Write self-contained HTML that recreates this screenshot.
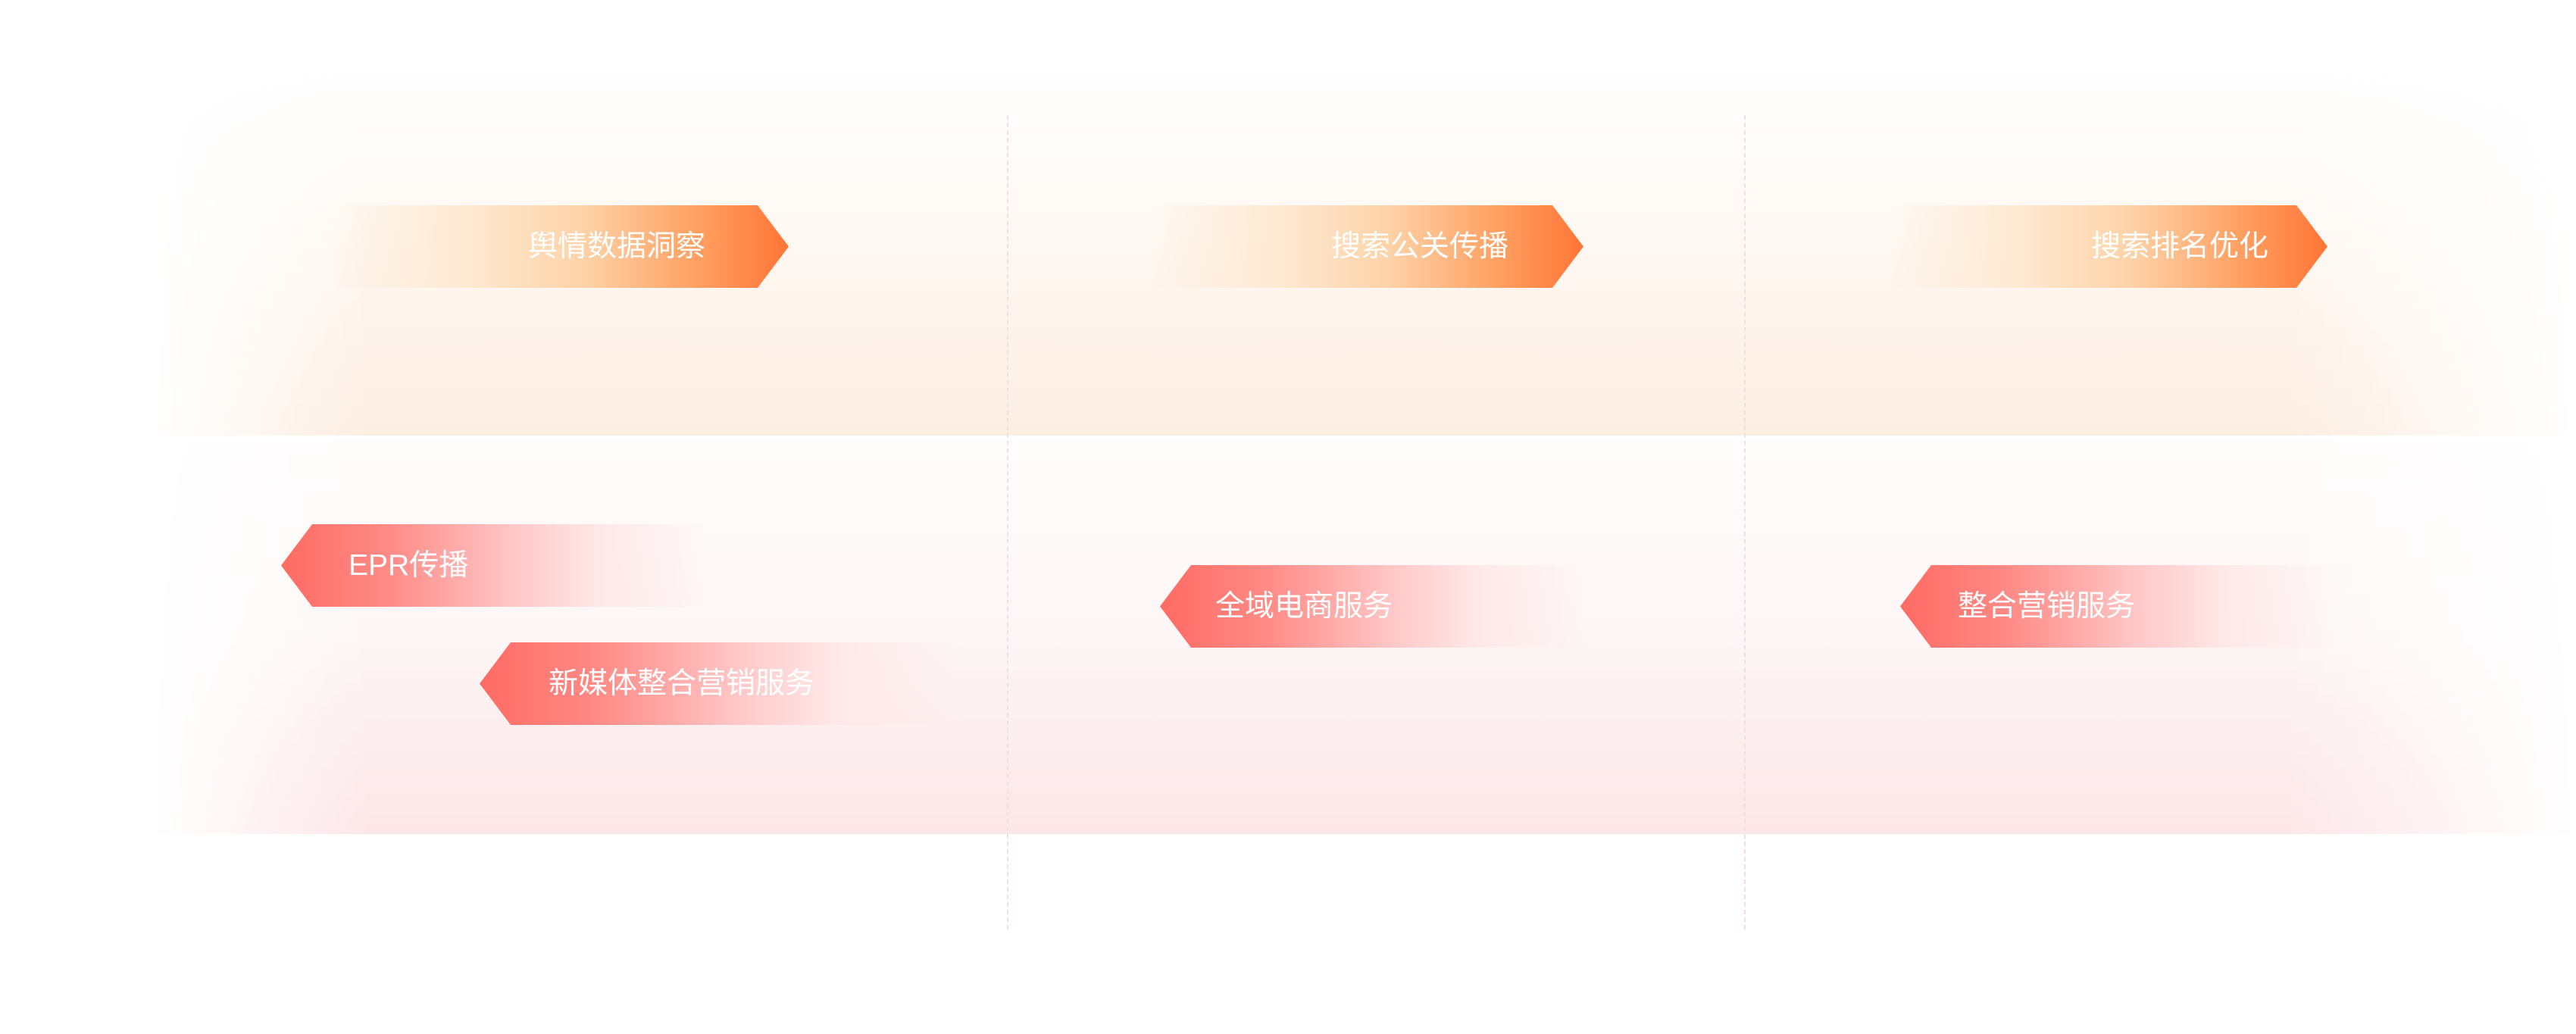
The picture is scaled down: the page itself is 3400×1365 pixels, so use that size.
<!DOCTYPE html>
<html><head><meta charset="utf-8"><style>
html,body{margin:0;padding:0;background:#fff;}
body{width:3400px;height:1365px;position:relative;overflow:hidden;font-family:"Liberation Sans","Noto Sans CJK SC",sans-serif;}
.band{position:absolute;left:200px;width:3200px;
-webkit-mask-image:linear-gradient(90deg,transparent 0,#000 9%,#000 88%,transparent 100%),linear-gradient(180deg,#000 0,#000 100%);
-webkit-mask-composite:source-in;
mask-image:linear-gradient(90deg,transparent 0,#000 9%,#000 88%,transparent 100%),linear-gradient(180deg,#000 0,#000 100%);
mask-composite:intersect;}
.b1{top:87px;height:488px;background:linear-gradient(180deg,rgba(255,252,250,0) 0%,#fffaf6 35%,#fdeee3 100%);}
.b2{top:581px;height:520px;background:linear-gradient(180deg,#fffcfc 0%,#fdf6f6 50%,#fde6e8 100%);}
.vl{position:absolute;top:152px;height:1075px;width:0;border-left:2px dashed #f6dedc;}
.ta{position:absolute;height:109px;clip-path:polygon(0 0,calc(100% - 41px) 0,100% 50%,calc(100% - 41px) 100%,0 100%);
background:linear-gradient(90deg,rgba(255,240,225,0) 0%,#fde9d2 30%,#fdd3a8 55%,#ffa062 80%,#ff7636 100%);}
.ba{position:absolute;height:109px;clip-path:polygon(41px 0,100% 0,100% 100%,41px 100%,0 50%);
background:linear-gradient(90deg,#ff6b63 0%,#ff8a86 25%,#ffc8c8 55%,#ffe8e8 75%,rgba(255,245,245,0) 100%);}
.t{position:absolute;color:#fff;font-size:39px;line-height:109px;white-space:nowrap;font-family:"Liberation Sans","Noto Sans CJK SC",sans-serif;}
</style></head><body>
<div class="band b1"></div>
<div class="band b2"></div>
<div class="vl" style="left:1329px"></div>
<div class="vl" style="left:2302px"></div>

<div class="ta" style="left:434px;top:271px;width:607px"></div>
<div class="t" style="left:697px;top:271px">舆情数据洞察</div>
<div class="ta" style="left:1518px;top:271px;width:572px"></div>
<div class="t" style="left:1757px;top:271px">搜索公关传播</div>
<div class="ta" style="left:2493px;top:271px;width:579px"></div>
<div class="t" style="left:2760px;top:271px">搜索排名优化</div>

<div class="ba" style="left:371px;top:692px;width:561px"></div>
<div class="t" style="left:460px;top:692px">EPR传播</div>
<div class="ba" style="left:633px;top:848px;width:624px"></div>
<div class="t" style="left:724px;top:848px">新媒体整合营销服务</div>
<div class="ba" style="left:1531px;top:746px;width:561px"></div>
<div class="t" style="left:1604px;top:746px">全域电商服务</div>
<div class="ba" style="left:2508px;top:746px;width:571px"></div>
<div class="t" style="left:2584px;top:746px">整合营销服务</div>
</body></html>
